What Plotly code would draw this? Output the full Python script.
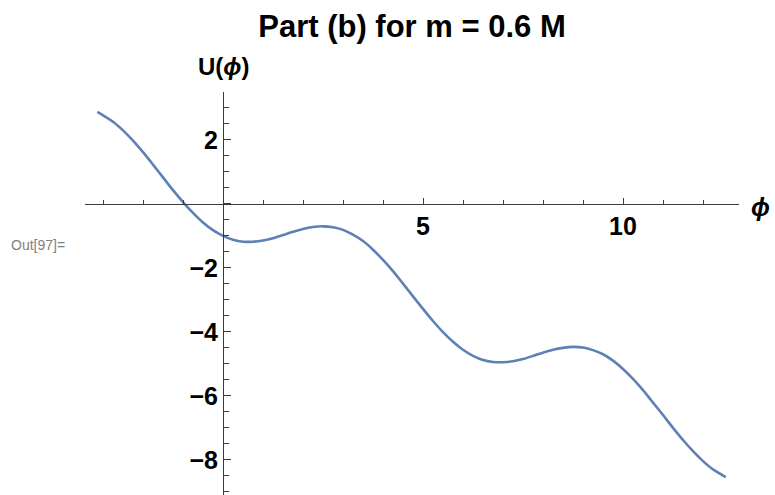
import plotly.graph_objects as go

# Data: U(phi) versus phi
phi = [-3.14, -2.75, -2.5, -2.25, -2.0, -1.75, -1.5, -1.25, -1.0, -0.75, -0.5, -0.25,
       0.0, 0.25, 0.5, 0.75, 1.0, 1.25, 1.5, 1.75, 2.0, 2.25, 2.5, 2.75,
       3.0, 3.25, 3.5, 3.75, 4.0, 4.25, 4.5, 4.75, 5.0, 5.25, 5.5, 5.75,
       6.0, 6.25, 6.5, 6.75, 7.0, 7.25, 7.5, 7.75, 8.0, 8.25, 8.5, 8.75,
       9.0, 9.25, 9.5, 9.75, 10.0, 10.25, 10.5, 10.75, 11.0, 11.25, 11.5, 11.75,
       12.0, 12.25, 12.57]
U = [2.88, 2.57, 2.30, 1.98, 1.62, 1.23, 0.83, 0.43, 0.06, -0.28, -0.58, -0.82,
     -1.00, -1.12, -1.18, -1.18, -1.14, -1.07, -0.97, -0.87, -0.78, -0.72, -0.70, -0.73,
     -0.81, -0.96, -1.16, -1.43, -1.75, -2.10, -2.49, -2.89, -3.28, -3.66, -4.01, -4.31,
     -4.56, -4.75, -4.88, -4.94, -4.95, -4.92, -4.85, -4.75, -4.65, -4.56, -4.50, -4.47,
     -4.49, -4.57, -4.70, -4.90, -5.16, -5.47, -5.82, -6.21, -6.60, -7.00, -7.38, -7.73,
     -8.04, -8.30, -8.54]

x_tickvals = [0, 5, 10]
x_ticktext = ["", "5", "10"]
y_tickvals = [-8, -6, -4, -2, 0, 2]
y_ticktext = ["\u22128", "\u22126", "\u22124", "\u22122", "", "2"]

title_text = "Part (b) for m = 0.6 M"
x_label = "<i>\u03d5</i>"
y_label = "U(<i>\u03d5</i>)"
out_label = "Out[97]="

XR = [-3.45, 12.9]
YR = [-9.1, 3.5]

FONT = "Liberation Sans, Arial, Helvetica, sans-serif"
AXC = "#3a3a3a"

fig = go.Figure()
fig.add_trace(go.Scatter(x=phi, y=U, mode="lines",
                         line=dict(color="#5E81B5", width=2.6, shape="spline", smoothing=0.8),
                         hoverinfo="skip", showlegend=False))

xpos = (0 - YR[0]) / (YR[1] - YR[0])
ypos = (0 - XR[0]) / (XR[1] - XR[0])

fig.update_layout(
    width=775, height=495,
    margin=dict(l=85, r=36, t=92, b=0, autoexpand=False),
    paper_bgcolor="white", plot_bgcolor="white",
    title=dict(text=title_text, x=0.5, xref="paper", xanchor="center",
               y=1 - 26 / 495, yref="container", yanchor="middle",
               font=dict(family=FONT, size=31, color="black", weight="bold")),
    xaxis=dict(range=XR, domain=[0, 1], anchor="free", position=xpos,
               showgrid=False, zeroline=False, showline=True, linecolor=AXC, linewidth=1,
               tickmode="array", tickvals=x_tickvals, ticktext=x_ticktext,
               ticks="inside", ticklen=6, tickcolor=AXC, tickwidth=1,
               ticklabelstandoff=0,
               tickfont=dict(family=FONT, size=25, color="black", weight="bold"),
               minor=dict(tickmode="linear", tick0=0, dtick=1, ticks="inside",
                          ticklen=3.5, tickcolor=AXC, tickwidth=1, showgrid=False)),
    yaxis=dict(range=YR, domain=[0, 1], anchor="free", position=ypos,
               showgrid=False, zeroline=False, showline=True, linecolor=AXC, linewidth=1,
               tickmode="array", tickvals=y_tickvals, ticktext=y_ticktext,
               ticks="inside", ticklen=7, tickcolor=AXC, tickwidth=1,
               ticklabelstandoff=0,
               tickfont=dict(family=FONT, size=25, color="black", weight="bold"),
               minor=dict(tickmode="linear", tick0=0, dtick=0.5, ticks="inside",
                          ticklen=4.5, tickcolor=AXC, tickwidth=1, showgrid=False)),
)

fig.add_annotation(text=y_label, x=(223.7 - 85) / 654, y=(495 - 67) / 403,
                   xref="paper", yref="paper",
                   xanchor="center", yanchor="middle", showarrow=False,
                   font=dict(family=FONT, size=24, color="black", weight="bold"))
fig.add_annotation(text=x_label, x=(760.5 - 85) / 654, y=(495 - 207) / 403,
                   xref="paper", yref="paper",
                   xanchor="center", yanchor="middle", showarrow=False,
                   font=dict(family=FONT, size=25, color="black", weight="bold"))
fig.add_annotation(text=out_label, x=(9 - 85) / 654, y=(495 - 245) / 403,
                   xref="paper", yref="paper",
                   xanchor="left", yanchor="middle", showarrow=False,
                   font=dict(family=FONT, size=14, color="#808080"))

fig.write_html("out.html", config={"displayModeBar": False},
               post_script="document.body.style.margin='0';")
